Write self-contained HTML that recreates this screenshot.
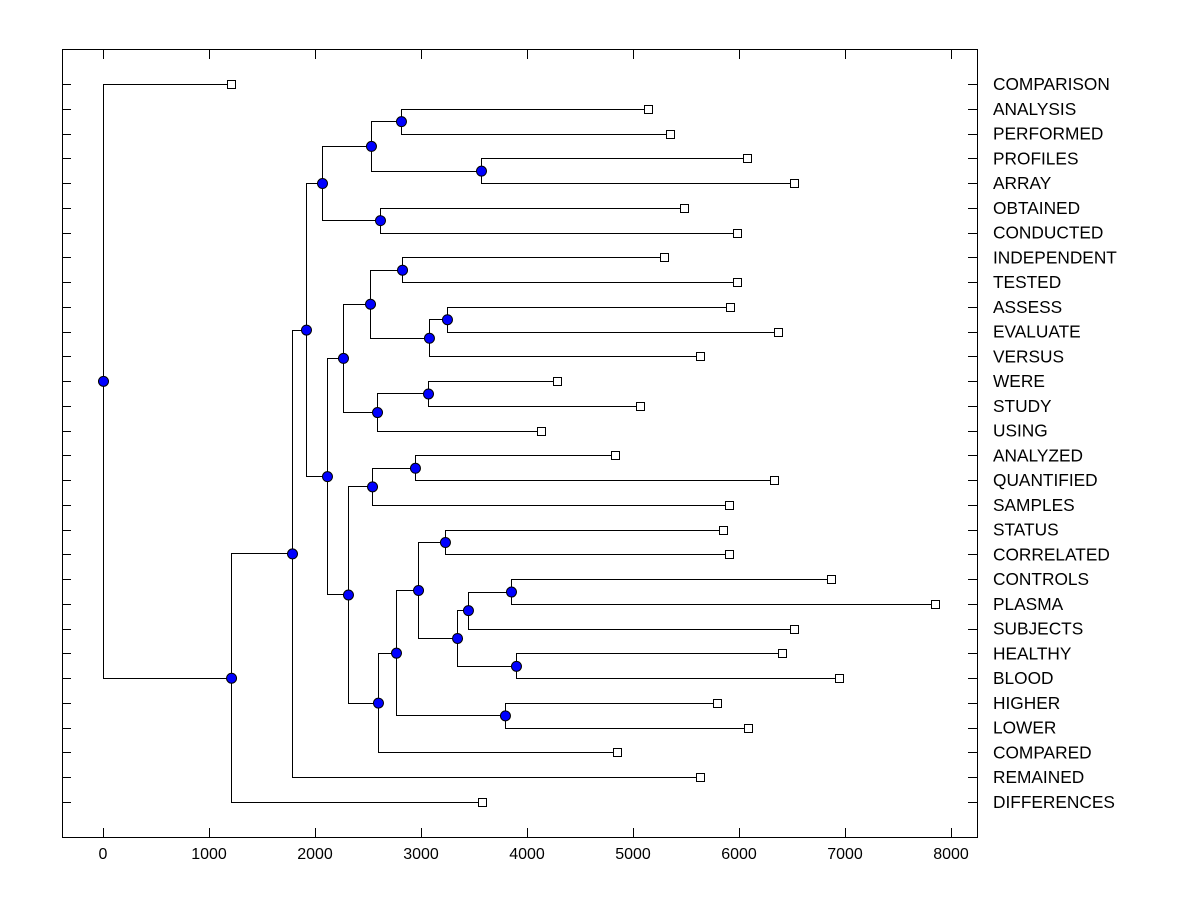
<!DOCTYPE html>
<html><head><meta charset="utf-8"><style>
html,body{margin:0;padding:0;background:#fff;}
svg{display:block;font-family:"Liberation Sans",Arial,sans-serif;}
</style></head><body>
<svg id="chart" width="1200" height="900" xmlns="http://www.w3.org/2000/svg">
<rect x="62.5" y="49.5" width="915" height="788" fill="#fff" stroke="#000" stroke-width="1"/>
<g id="ticks"></g>
<g id="links"></g>
<g id="marks"></g>
<g id="labels"></g>
</svg>
<script>
const leafLabels = ["COMPARISON","ANALYSIS","PERFORMED","PROFILES","ARRAY","OBTAINED","CONDUCTED","INDEPENDENT","TESTED","ASSESS","EVALUATE","VERSUS","WERE","STUDY","USING","ANALYZED","QUANTIFIED","SAMPLES","STATUS","CORRELATED","CONTROLS","PLASMA","SUBJECTS","HEALTHY","BLOOD","HIGHER","LOWER","COMPARED","REMAINED","DIFFERENCES"];
const leafValues = [1208,5142,5349,6075,6519,5481,5981,5292,5981,5915,6368,5632,4283,5066,4132,4830,6330,5906,5849,5906,6868,7849,6519,6406,6943,5792,6085,4849,5632,3575];
const mergeLeft  = [1,3,30,5,32,7,9,36,35,12,39,38,15,42,18,20,45,23,46,44,25,49,51,43,41,34,55,56,0];
const mergeRight = [2,4,31,6,33,8,10,11,37,13,14,40,16,17,19,21,22,24,47,48,26,50,27,52,53,54,28,29,57];
const mergeHeight= [2811,3566,2528,2613,2066,2821,3245,3075,2519,3066,2585,2264,2943,2538,3226,3849,3443,3896,3340,2972,3792,2764,2594,2311,2113,1915,1783,1208,0];
const xTicks = [0,1000,2000,3000,4000,5000,6000,7000,8000];

const NS="http://www.w3.org/2000/svg";
const X0=103, PXU=0.106, Y0=84, DY=(802-84)/29;
const xs=v=>X0+v*PXU;
const ys=i=>Y0+i*DY;
function mk(tag,attrs,parent){const e=document.createElementNS(NS,tag);for(const k in attrs)e.setAttribute(k,attrs[k]);parent.appendChild(e);return e;}
const gT=document.getElementById('ticks'),gL=document.getElementById('links'),gM=document.getElementById('marks'),gLab=document.getElementById('labels');

xTicks.forEach(t=>{
  const x=Math.round(xs(t))+0.5;
  let e=mk('line',{x1:x,x2:x,y1:837,y2:828,stroke:'#000'},gT);
  
  
  e=mk('line',{x1:x,x2:x,y1:50,y2:59,stroke:'#000'},gT);
  
  
  const tx=mk('text',{x:xs(t),y:859,'text-anchor':'middle','font-size':'16'},gT);
  tx.textContent=t;
  
  
});
leafLabels.forEach((lab,i)=>{
  const y=Math.round(ys(i))+0.5;
  let e=mk('line',{x1:62,x2:71,y1:y,y2:y,stroke:'#000'},gT);
  
  
  e=mk('line',{x1:968,x2:977,y1:y,y2:y,stroke:'#000'},gT);
  
  
  const tx=mk('text',{x:993,y:ys(i)+6,'font-size':'17.3'},gLab);
  tx.textContent=lab;
  
  
});

const nX=leafValues.slice(), nY=leafValues.map((v,i)=>ys(i));
mergeHeight.forEach((h,k)=>{
  const a=mergeLeft[k], b=mergeRight[k];
  nX.push(h); nY.push((nY[a]+nY[b])/2);
});
mergeHeight.forEach((h,k)=>{
  const a=mergeLeft[k], b=mergeRight[k];
  const px=Math.round(xs(h))+0.5;
  const ya=Math.round(nY[a])+0.5, yb=Math.round(nY[b])+0.5;
  const d=`M${Math.round(xs(nX[a]))+0.5},${ya}H${px}V${yb}H${Math.round(xs(nX[b]))+0.5}`;
  const p=mk('path',{d:d,fill:'none',stroke:'#000','stroke-width':1},gL);
  
  
});
leafValues.forEach((v,i)=>{
  const r=mk('rect',{x:Math.round(xs(v))-3.5,y:Math.round(ys(i))-3.5,width:8,height:8,fill:'#fff',stroke:'#000'},gM);
  
  
});
mergeHeight.forEach((h,k)=>{
  const n=leafValues.length+k;
  const c=mk('circle',{cx:xs(h)+0.5,cy:nY[n]+0.5,r:5,fill:'#0000ff',stroke:'#000','stroke-width':1},gM);
  
  
});
</script>
</body></html>
